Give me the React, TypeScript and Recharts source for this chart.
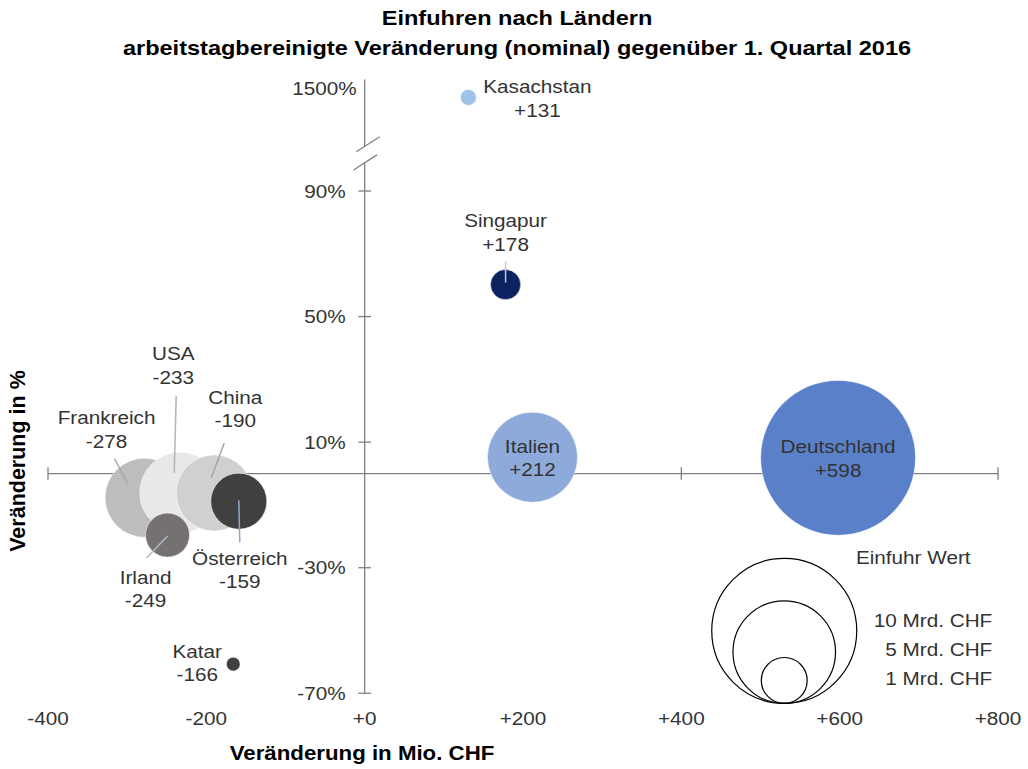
import React from 'react';
import {
  ScatterChart,
  Scatter,
  XAxis,
  YAxis,
  ZAxis,
  ReferenceLine,
  ReferenceDot,
} from 'recharts';

// draw order matters: later bubbles lie on top
const countries = ['Deutschland', 'Italien', 'Singapur', 'Kasachstan', 'Frankreich', 'USA', 'China', 'Österreich', 'Irland', 'Katar'];
const changeMio = [598, 212, 178, 131, -278, -233, -190, -159, -249, -166];
const changePct = [5, 5.2, 60.2, 1497, -7.7, -6.1, -6.2, -8.8, -19.6, -60.7];
const importMrd = [11.4, 3.85, 0.43, 0.12, 2.97, 3.12, 2.75, 1.49, 0.92, 0.09];

const xTicks = [-400, -200, 0, 200, 400, 600, 800];
const yTicks = [-70, -30, 10, 50, 90];
const yTopTick = 1500;

const legendValues = [10, 5, 1];
const legendLabels = ['10 Mrd. CHF', '5 Mrd. CHF', '1 Mrd. CHF'];

// the y axis is broken above 100 %: the upper part keeps the scale but is shifted down
const BREAK_SHIFT = 1377.2;
const plotY = (v: number) => (v > 100 ? v - BREAK_SHIFT : v);

const FONT = '"Liberation Sans", Arial, sans-serif';
const TEXT = '#333333';
const AXIS = '#808080';
const FS = 18.5;
const STRETCH = 1.12; // the source text is a bit wider than plain Arial

const bubbleColor: Record<string, string> = {
  Deutschland: '#5a80c9',
  Italien: '#8eaadb',
  Singapur: '#0b2160',
  Kasachstan: '#9dc3e6',
  Frankreich: '#bdbdbd',
  USA: '#e8e8e8',
  China: '#d0d0d0',
  Österreich: '#404040',
  Irland: '#767171',
  Katar: '#404040',
};

// label offsets (px) from the bubble centre, optional leader line
const labelLayout: Record<string, { dx: number; dy: number; lead?: number[]; leadColor?: string }> = {
  Deutschland: { dx: 0, dy: -11 },
  Italien: { dx: 0, dy: -11 },
  Singapur: { dx: 0, dy: -64, lead: [0, -23, 0, -2], leadColor: '#c8c8c8' },
  Kasachstan: { dx: 69, dy: -11 },
  Frankreich: { dx: -38, dy: -80, lead: [-30, -39, -17, -14], leadColor: '#a6a6a6' },
  USA: { dx: -7, dy: -139, lead: [-4, -97, -6, -20], leadColor: '#b4b4b4' },
  China: { dx: 21, dy: -96, lead: [10, -50, -3, -15], leadColor: '#a6a6a6' },
  Österreich: { dx: 1, dy: 57, lead: [0, -1, 1, 41], leadColor: '#8ea9c8' },
  Irland: { dx: -22, dy: 42, lead: [-21, 23, 0, 1], leadColor: '#adb9ca' },
  Katar: { dx: -36, dy: -13 },
};

const legendLabelDy = [-83, -54, -25];
const LEGEND_AT = { x: 530, y: -73.2 };

const rows = countries.map((name, i) => ({
  name,
  x: changeMio[i],
  y: plotY(changePct[i]),
  z: importMrd[i],
}));

const legendRows = legendValues.map((v) => ({ x: LEGEND_AT.x, y: LEGEND_AT.y, z: v }));

const radiusOf = (p: any) => (p.width ? p.width / 2 : Math.sqrt((p.size || 0) / Math.PI));

const SText = ({ x, y, anchor = 'middle', children }: any) => (
  <g transform={`translate(${x},${y}) scale(${STRETCH},1)`}>
    <text
      x={0}
      y={0}
      textAnchor={anchor}
      dominantBaseline="central"
      style={{ fontFamily: FONT, fontSize: FS, fill: TEXT }}
    >
      {children}
    </text>
  </g>
);

const Bubble = (p: any) => (
  <circle
    cx={p.cx}
    cy={p.cy}
    r={radiusOf(p)}
    fill={bubbleColor[p.payload.name]}
    stroke="#ffffff"
    strokeOpacity={0.6}
    strokeWidth={0.8}
  />
);

const BubbleLabel = (p: any) => {
  const name = p.payload.name;
  const L = labelLayout[name];
  const v = p.payload.x;
  const txt = v > 0 ? `+${v}` : `${v}`;
  return (
    <g>
      {L.lead && (
        <line
          x1={p.cx + L.lead[0]}
          y1={p.cy + L.lead[1]}
          x2={p.cx + L.lead[2]}
          y2={p.cy + L.lead[3]}
          stroke={L.leadColor}
          strokeWidth={1.5}
        />
      )}
      <SText x={p.cx + L.dx} y={p.cy + L.dy}>{name}</SText>
      <SText x={p.cx + L.dx} y={p.cy + L.dy + 23.5}>{txt}</SText>
    </g>
  );
};

const LegendCircle = (p: any) => {
  const r = radiusOf(p);
  const i = legendValues.indexOf(p.payload.z);
  return (
    <g>
      <circle cx={p.cx} cy={p.cy - r} r={r} fill="none" stroke="#000000" strokeWidth={1.2} />
      <SText x={p.cx + 208} y={p.cy + legendLabelDy[i]} anchor="end">{legendLabels[i]}</SText>
      {i === 0 && <SText x={p.cx + 129} y={p.cy - 146}>Einfuhr Wert</SText>}
    </g>
  );
};

const fmtX = (v: number) => (v >= 0 ? `+${v}` : `${v}`);

const XTick = (p: any) => <SText x={p.x} y={p.y + 7}>{fmtX(p.payload.value)}</SText>;

const YTickLabel = ({ viewBox, text, gap }: any) => (
  <SText x={viewBox.x - gap} y={viewBox.y} anchor="end">{text}</SText>
);

export default function App() {
  return (
    <div style={{ position: 'absolute', left: 0, top: 0, width: 1028, height: 769, background: '#fff', fontFamily: FONT }}>
      <div
        style={{
          position: 'absolute',
          top: 3,
          left: 3,
          width: 1028,
          textAlign: 'center',
          fontWeight: 'bold',
          fontSize: 21,
          lineHeight: '30px',
          color: '#000',
          transform: `scaleX(${STRETCH})`,
        }}
      >
        Einfuhren nach Ländern
        <br />
        arbeitstagbereinigte Veränderung (nominal) gegenüber 1. Quartal 2016
      </div>

      <ScatterChart width={1028} height={769} margin={{ top: 78, right: 30, bottom: 30, left: 48 }}>
        <XAxis
          type="number"
          dataKey="x"
          domain={[-400, 800]}
          ticks={xTicks}
          allowDataOverflow
          axisLine={false}
          tickLine={false}
          tickSize={0}
          tickMargin={2}
          height={30}
          interval={0}
          tick={<XTick />}
        />
        <YAxis type="number" dataKey="y" domain={[-75, 126]} allowDataOverflow hide />
        <ZAxis type="number" dataKey="z" domain={[0, 12]} range={[0, Math.PI * 72.5 * 72.5 * 1.2]} />

        {/* horizontal axis through 0 % */}
        <ReferenceLine y={0} stroke={AXIS} strokeWidth={1.3} />
        {xTicks
          .filter((t) => t !== 0)
          .map((t) => (
            <ReferenceLine
              key={`xt${t}`}
              segment={[{ x: t, y: -2 }, { x: t, y: 2 }]}
              stroke={AXIS}
              strokeWidth={1.3}
            />
          ))}

        {/* vertical axis through 0 with a break */}
        <ReferenceLine segment={[{ x: 0, y: -70 }, { x: 0, y: 99 }]} stroke={AXIS} strokeWidth={1.3} />
        <ReferenceLine segment={[{ x: 0, y: 104.3 }, { x: 0, y: 125.5 }]} stroke={AXIS} strokeWidth={1.3} />
        <ReferenceLine segment={[{ x: -10.5, y: 102.5 }, { x: 19, y: 107.3 }]} stroke={AXIS} strokeWidth={1.3} />
        <ReferenceLine segment={[{ x: -14, y: 96.7 }, { x: 15.5, y: 101.5 }]} stroke={AXIS} strokeWidth={1.3} />
        {yTicks.map((t) => (
          <ReferenceLine
            key={`yt${t}`}
            segment={[{ x: -8, y: t }, { x: 8, y: t }]}
            stroke={AXIS}
            strokeWidth={1.3}
          />
        ))}
        {yTicks.map((t) => (
          <ReferenceDot
            key={`yl${t}`}
            x={0}
            y={t}
            r={0}
            fill="none"
            stroke="none"
            label={<YTickLabel text={`${t}%`} gap={19} />}
          />
        ))}
        <ReferenceDot
          x={0}
          y={plotY(yTopTick)}
          r={0}
          fill="none"
          stroke="none"
          label={<YTickLabel text={`${yTopTick}%`} gap={8} />}
        />

        <Scatter data={rows} shape={Bubble} isAnimationActive={false} />
        <Scatter data={rows} shape={BubbleLabel} isAnimationActive={false} />
        <Scatter data={legendRows} shape={LegendCircle} isAnimationActive={false} />
      </ScatterChart>

      <div
        style={{
          position: 'absolute',
          left: 18,
          top: 461,
          transform: 'translate(-50%, -50%) rotate(-90deg)',
          whiteSpace: 'nowrap',
          fontWeight: 'bold',
          fontSize: 21.5,
          color: '#000',
        }}
      >
        Veränderung in %
      </div>
      <div
        style={{
          position: 'absolute',
          left: 362,
          top: 753,
          transform: 'translate(-50%, -50%) scaleX(1.06)',
          whiteSpace: 'nowrap',
          fontWeight: 'bold',
          fontSize: 21,
          color: '#000',
        }}
      >
        Veränderung in Mio. CHF
      </div>
    </div>
  );
}
